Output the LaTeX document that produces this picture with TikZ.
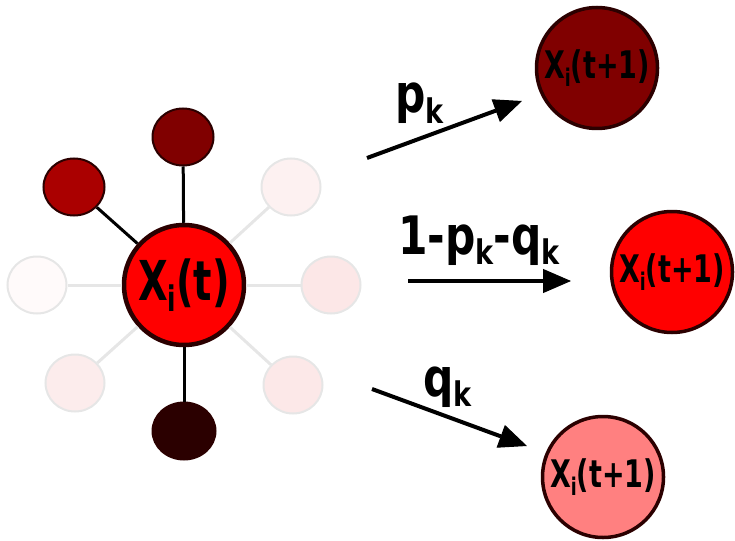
\documentclass[tikz,border=0pt]{standalone}
\usepackage{fontspec}
\setmainfont{DejaVu Sans}
\usetikzlibrary{arrows.meta,shapes.geometric}
\definecolor{dred}{HTML}{2B0000}
\definecolor{nbtop}{HTML}{800000}
\definecolor{nbul}{HTML}{AA0000}
\definecolor{nbbot}{HTML}{2B0000}
\definecolor{fur}{HTML}{FDF1F1}
\definecolor{fl}{HTML}{FFFAFA}
\definecolor{fr}{HTML}{FCE7E7}
\definecolor{fll}{HTML}{FCECEC}
\definecolor{flr}{HTML}{FCE8E8}
\definecolor{fgray}{HTML}{E6E6E6}
\definecolor{pinkc}{HTML}{FF8080}
\newcommand\sbs[1]{\raisebox{-0.2em}{\scalebox{0.64}{#1}}}
\begin{document}
\begin{tikzpicture}[x=1pt,y=-1pt,
  nb/.style={ellipse,draw=dred,line width=2pt,minimum width=61pt,minimum height=57pt,inner sep=0pt},
  faint/.style={ellipse,draw=fgray,line width=2pt,minimum width=59pt,minimum height=57pt,inner sep=0pt},
  bigc/.style={circle,draw=dred,fill=red,line width=4.5pt,minimum size=120pt,inner sep=0pt},
  nextc/.style={circle,draw=dred,line width=3.5pt,minimum size=121pt,inner sep=0pt},
  darkedge/.style={draw=black,line width=3pt},
  lightedge/.style={draw=fgray,line width=3pt},
  prob/.style={inner sep=0pt,font=\fontsize{53}{60}\selectfont\bfseries},
  arr/.style={line width=4pt,-{Triangle[length=28pt,width=24pt,fill=black,line width=1pt]},draw=black},
  bigtxt/.style={font=\fontsize{55}{60}\selectfont\bfseries},
  nxttxt/.style={font=\fontsize{38}{44}\selectfont\bfseries}
]
\useasboundingbox (0,0) rectangle (735,540);
% neighbours
\node[nb,fill=nbtop] (ntop) at (183,137) {};
\node[nb,fill=nbul] (nul) at (74,187) {};
\node[nb,fill=nbbot,minimum width=63pt] (nbot) at (184,431) {};
\node[faint,fill=fur] (nur) at (291,187) {};
\node[faint,fill=fl] (nl) at (37,285) {};
\node[faint,fill=fr] (nr) at (331,285) {};
\node[faint,fill=fll] (nll) at (75,383) {};
\node[faint,fill=flr] (nlr) at (293,385) {};
% centre
\node[bigc,bigtxt] (c) at (184,285) {\scalebox{0.70}[1]{X\sbs{i}(t)}};
% edges
\path[lightedge] (c) -- (nur);
\path[lightedge] (c) -- (nl);
\path[lightedge] (c) -- (nr);
\path[lightedge] (c) -- (nll);
\path[lightedge] (c) -- (nlr);
\path[darkedge] (c) -- (ntop);
\path[darkedge] (c) -- (nul);
\path[darkedge] (c) -- (nbot);
% next states
\node[nextc,fill=nbtop,nxttxt] (t1) at (597,68) {\scalebox{0.71}[1]{X\sbs{i}(t+1)}};
\node[nextc,fill=red,nxttxt] (t2) at (672,272) {\scalebox{0.71}[1]{X\sbs{i}(t+1)}};
\node[nextc,fill=pinkc,nxttxt] (t3) at (603,477) {\scalebox{0.71}[1]{X\sbs{i}(t+1)}};
% arrows
\coordinate (a1s) at (367,158);
\coordinate (a1e) at (522,101);
\coordinate (a2s) at (408,281);
\coordinate (a2e) at (571,281);
\coordinate (a3s) at (372,389);
\coordinate (a3e) at (527,446);
\draw[arr] (a1s) -- (a1e);
\draw[arr] (a2s) -- (a2e);
\draw[arr] (a3s) -- (a3e);
% labels
\node[prob,anchor=base west] (lp) at (395,113) {\scalebox{0.8}[1]{p\sbs{k}}};
\node[prob,anchor=base west] (lm) at (398,254) {\scalebox{0.8}[1]{1-p\sbs{k}-q\sbs{k}}};
\node[prob,anchor=base west] (lq) at (423,396) {\scalebox{0.8}[1]{q\sbs{k}}};
\end{tikzpicture}
\end{document}
